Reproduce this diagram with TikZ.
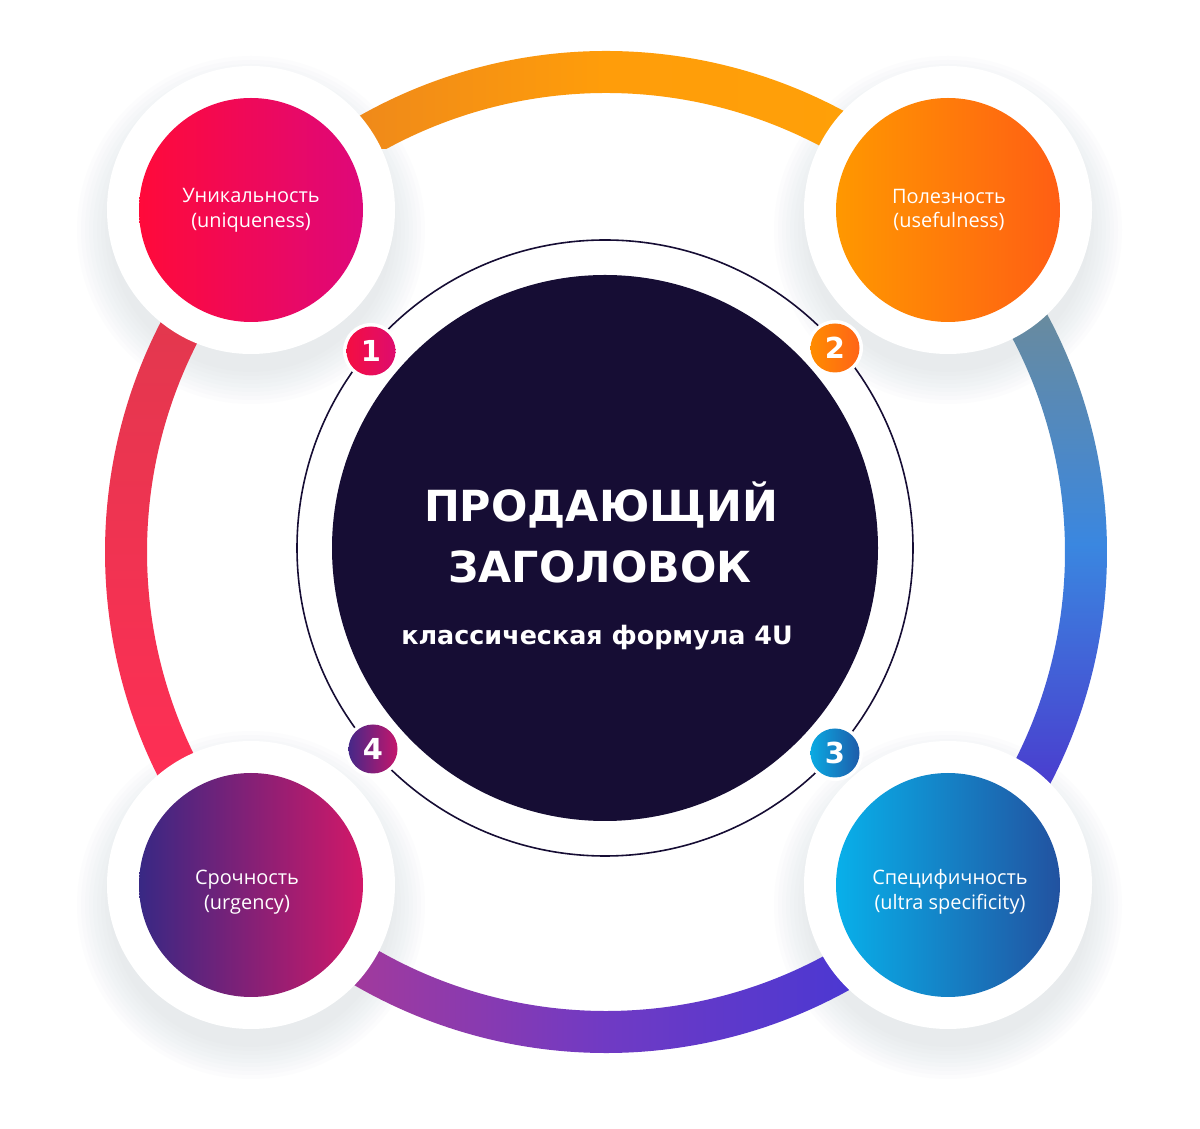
\documentclass[tikz,border=0pt]{standalone}
\usepackage{fontspec}
\setmainfont{Open Sans}
\newfontfamily\titlefont{DejaVu Sans}
\usetikzlibrary{calc}
\definecolor{darkbg}{HTML}{160D34}
\definecolor{shcol}{HTML}{B9C3D2}
\definecolor{topL}{HTML}{EE881B}
\definecolor{topM}{HTML}{FF9D0A}
\definecolor{topR}{HTML}{FFA008}
\definecolor{rightT}{RGB}{108,139,154}
\definecolor{rightM}{RGB}{58,135,224}
\definecolor{rightB}{RGB}{74,60,206}
\definecolor{botL}{RGB}{162,58,156}
\definecolor{botM}{RGB}{112,58,196}
\definecolor{botR}{RGB}{74,56,210}
\definecolor{leftT}{RGB}{226,56,78}
\definecolor{leftB}{RGB}{255,46,85}
\definecolor{uL}{RGB}{255,10,58}
\definecolor{uR}{RGB}{222,8,122}
\definecolor{pL}{RGB}{255,152,0}
\definecolor{pR}{RGB}{255,94,20}
\definecolor{sL}{RGB}{56,40,132}
\definecolor{sR}{RGB}{210,24,104}
\definecolor{cL}{RGB}{8,176,234}
\definecolor{cR}{RGB}{34,82,160}
\definecolor{b1L}{RGB}{244,14,66}
\definecolor{b1R}{RGB}{222,12,110}
\definecolor{b2L}{RGB}{255,140,0}
\definecolor{b2R}{RGB}{255,100,24}
\definecolor{b3L}{RGB}{10,170,226}
\definecolor{b3R}{RGB}{30,92,170}
\definecolor{b4L}{RGB}{70,40,136}
\definecolor{b4R}{RGB}{196,22,108}
\tikzset{
  whitedisk/.style={fill=white},
  label/.style={text=white, align=center, font=\fontsize{20}{25}\selectfont},
  badgenum/.style={text=white, font=\titlefont\bfseries\fontsize{29}{29}\selectfont},
}
\newcommand{\ringsector}[2]{% start angle, end angle
  ($(C)+(#1:501)$) arc[start angle=#1, end angle=#2, radius=501]
  -- ($(C)+(#2:459)$) arc[start angle=#2, end angle=#1, radius=459] -- cycle}
\newcommand{\softshadow}[2]{%
  \foreach \r in {142,146,...,174}{\fill[shcol, opacity=0.035] (#1,#2-20) circle (\r);}}
\begin{document}
\begin{tikzpicture}[x=1bp,y=1bp]
\useasboundingbox (0,0) rectangle (1200,1129);
\fill[white] (0,0) rectangle (1200,1129);
\coordinate (C) at (606,577);
\coordinate (M) at (605,581);
% shadows
\softshadow{251}{919}
\softshadow{948}{919}
\softshadow{251}{244}
\softshadow{948}{244}
% ring sectors
\begin{scope}
  \clip \ringsector{44}{136};
  \shade[left color=topL, right color=topR, middle color=topM] (340,980) rectangle (870,1090);
\end{scope}
\begin{scope}
  \clip \ringsector{-44}{44};
  \shade[top color=rightT, bottom color=rightB, middle color=rightM] (990,340) rectangle (1115,830);
\end{scope}
\begin{scope}
  \clip \ringsector{224}{316};
  \shade[left color=botL, right color=botR, middle color=botM] (350,60) rectangle (860,180);
\end{scope}
\begin{scope}
  \clip \ringsector{136}{224};
  \shade[top color=leftT, bottom color=leftB] (90,330) rectangle (225,820);
\end{scope}
% central circle
\draw[darkbg, line width=1.6] (M) circle (308);
\fill[darkbg] (M) circle (273);
\node[anchor=base, text=white, font=\titlefont\bfseries\fontsize{43}{43}\selectfont] (t1) at (601,607) {ПРОДАЮЩИЙ};
\node[anchor=base, text=white, font=\titlefont\bfseries\fontsize{43}{43}\selectfont] (t2) at (600,546) {ЗАГОЛОВОК};
\node[anchor=base, text=white, font=\titlefont\bfseries\fontsize{25.5}{26}\selectfont] (t3) at (597,484) {классическая формула 4U};
% white disks
\fill[whitedisk] (251,919) circle (144);
\fill[whitedisk] (948,919) circle (144);
\fill[whitedisk] (251,244) circle (144);
\fill[whitedisk] (948,244) circle (144);
% coloured disks
\shade[left color=uL, right color=uR] (251,919) circle (112);
\shade[left color=pL, right color=pR] (948,919) circle (112);
\shade[left color=sL, right color=sR] (251,244) circle (112);
\shade[left color=cL, right color=cR] (948,244) circle (112);
\node[label] (u1) at (251,919) {Уникальность\\(uniqueness)};
\node[label] (u2) at (949,919) {Полезность\\(usefulness)};
\node[label] (u4) at (247,237) {Срочность\\(urgency)};
\node[label] (u3) at (950,237) {Специфичность\\(ultra specificity)};
% badges
\fill[white] (371,778) circle (28);
\shade[left color=b1L, right color=b1R] (371,778) circle (24.5);
\node[badgenum] (b1) at (371,778) {1};
\fill[white] (835,781) circle (28);
\shade[left color=b2L, right color=b2R] (835,781) circle (24.5);
\node[badgenum] (b2) at (835,781) {2};
\fill[white] (835,376) circle (28);
\shade[left color=b3L, right color=b3R] (835,376) circle (24.5);
\node[badgenum] (b3) at (835,376) {3};
\fill[white] (373,380) circle (28);
\shade[left color=b4L, right color=b4R] (373,380) circle (24.5);
\node[badgenum] (b4) at (373,380) {4};
\end{tikzpicture}
\end{document}
